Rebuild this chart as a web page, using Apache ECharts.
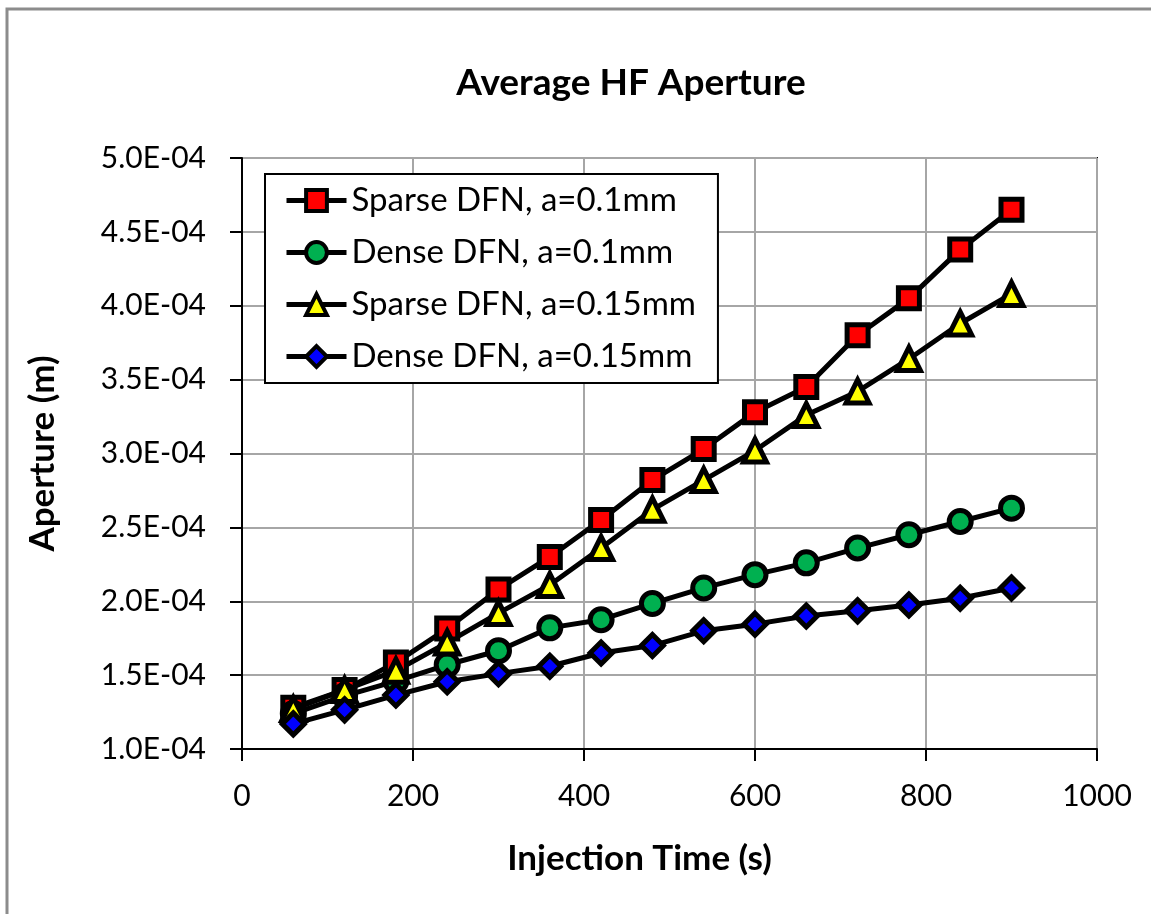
<!DOCTYPE html>
<html>
<head>
<meta charset="utf-8">
<script src="https://cdn.jsdelivr.net/npm/echarts@6/dist/echarts.min.js"></script>
<style>
  html, body { margin: 0; padding: 0; background: #fff; }
  #chart { width: 1151px; height: 914px; }
</style>
</head>
<body>
<div id="chart"></div>
<script>
// injection time (s)
var times = [60, 120, 180, 240, 300, 360, 420, 480, 540, 600, 660, 720, 780, 840, 900];
// aperture (m)
var sparse01 = [1.28e-4, 1.40e-4, 1.585e-4, 1.815e-4, 2.08e-4, 2.30e-4, 2.55e-4, 2.82e-4, 3.03e-4, 3.28e-4, 3.45e-4, 3.80e-4, 4.05e-4, 4.38e-4, 4.65e-4];
var dense01 = [1.24e-4, 1.36e-4, 1.46e-4, 1.57e-4, 1.665e-4, 1.82e-4, 1.875e-4, 1.985e-4, 2.09e-4, 2.18e-4, 2.26e-4, 2.36e-4, 2.45e-4, 2.54e-4, 2.63e-4];
var sparse015 = [1.27e-4, 1.40e-4, 1.53e-4, 1.72e-4, 1.92e-4, 2.11e-4, 2.36e-4, 2.62e-4, 2.82e-4, 3.02e-4, 3.26e-4, 3.42e-4, 3.64e-4, 3.88e-4, 4.08e-4];
var dense015 = [1.17e-4, 1.265e-4, 1.365e-4, 1.455e-4, 1.51e-4, 1.56e-4, 1.65e-4, 1.70e-4, 1.80e-4, 1.845e-4, 1.90e-4, 1.935e-4, 1.975e-4, 2.02e-4, 2.09e-4];
var seriesNames = ["Sparse DFN, a=0.1mm", "Dense DFN, a=0.1mm", "Sparse DFN, a=0.15mm", "Dense DFN, a=0.15mm"];
var yTickLabels = ["1.0E-04", "1.5E-04", "2.0E-04", "2.5E-04", "3.0E-04", "3.5E-04", "4.0E-04", "4.5E-04", "5.0E-04"];

var FONT = "Lato";

function pairs(vals) {
  return times.map(function (t, i) { return [t, vals[i]]; });
}

function mkSeries(name, vals, symbol, size, fill) {
  return {
    name: name,
    type: "line",
    data: pairs(vals),
    symbol: symbol,
    symbolSize: size,
    showAllSymbol: true,
    lineStyle: { color: "#000", width: 5 },
    itemStyle: { color: fill, borderColor: "#000", borderWidth: 5 },
    emphasis: { disabled: true }
  };
}

var myChart = echarts.init(document.getElementById("chart"), null, { renderer: "canvas" });

var option = {
  backgroundColor: "#ffffff",
  animation: false,
  title: {
    text: "Average HF Aperture",
    left: 626,
    top: 60,
    textAlign: "center",
    textStyle: { fontFamily: FONT, fontWeight: "bold", fontSize: 37, color: "#000" }
  },
  graphic: [{
    type: "rect",
    shape: { x: 7, y: 9, width: 1300, height: 1000 },
    style: { fill: "none", stroke: "#8c8c8c", lineWidth: 3 },
    silent: true
  }],
  legend: {
    orient: "vertical",
    left: 265,
    top: 174,
    padding: [10, 22, 10, 19],
    itemGap: 19,
    itemWidth: 60,
    itemHeight: 26,
    backgroundColor: "#fff",
    borderColor: "#000",
    borderWidth: 2,
    borderRadius: 0,
    lineStyle: { color: "#000", width: 5 },
    itemStyle: { borderColor: "#000", borderWidth: 4 },
    data: seriesNames,
    textStyle: { fontFamily: FONT, fontSize: 33, lineHeight: 30, color: "#000" }
  },
  grid: {
    left: 242,
    right: 54,
    top: 158,
    bottom: 165,
    show: true,
    borderColor: "#000",
    borderWidth: 2
  },
  xAxis: {
    type: "value",
    min: 0,
    max: 1000,
    interval: 200,
    name: "Injection Time (s)",
    nameLocation: "middle",
    nameGap: 92,
    nameTextStyle: { fontFamily: FONT, fontWeight: "bold", fontSize: 35, color: "#000", padding: [0, 60, 0, 0] },
    axisLine: { show: true, lineStyle: { color: "#000", width: 2 } },
    axisTick: { show: true, length: 12, lineStyle: { color: "#000", width: 2 } },
    axisLabel: {
      margin: 32, fontFamily: FONT, fontSize: 30, color: "#000",
      formatter: function (v) { return String(v); }
    },
    splitLine: { show: true, lineStyle: { color: "#a6a6a6", width: 2 } }
  },
  yAxis: {
    type: "value",
    min: 1e-4,
    max: 5e-4,
    interval: 0.5e-4,
    name: "Aperture (m)",
    nameLocation: "middle",
    nameRotate: 90,
    nameGap: 182,
    nameTextStyle: { fontFamily: FONT, fontWeight: "bold", fontSize: 35, color: "#000" },
    axisLine: { show: true, lineStyle: { color: "#000", width: 2 } },
    axisTick: { show: true, length: 12, lineStyle: { color: "#000", width: 2 } },
    axisLabel: {
      margin: 36,
      fontFamily: FONT,
      fontSize: 30,
      color: "#000",
      formatter: function (v) {
        return yTickLabels[Math.round((v - 1e-4) / 0.5e-4)];
      }
    },
    splitLine: { show: true, lineStyle: { color: "#a6a6a6", width: 2 } }
  },
  series: [
    mkSeries(seriesNames[0], sparse01, "rect", 21, "#ff0000"),
    mkSeries(seriesNames[1], dense01, "circle", 22, "#00b050"),
    mkSeries(seriesNames[2], sparse015, "triangle", 23, "#ffff00"),
    mkSeries(seriesNames[3], dense015, "diamond", 22, "#0000ff")
  ]
};

myChart.setOption(option);
</script>
</body>
</html>
